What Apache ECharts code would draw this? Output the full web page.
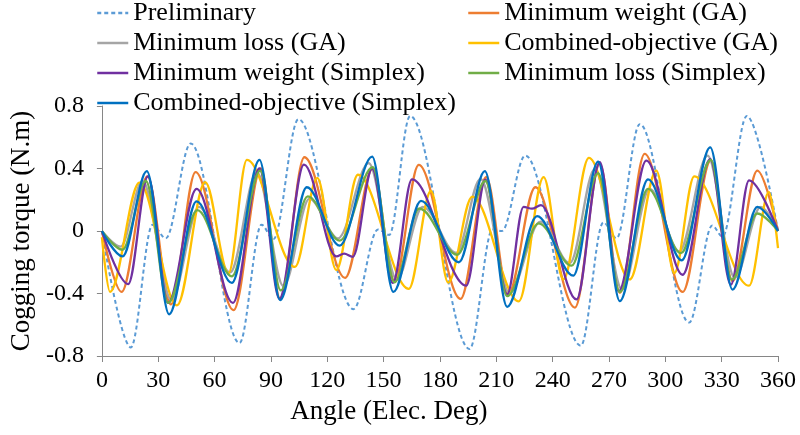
<!DOCTYPE html>
<html><head><meta charset="utf-8">
<script src="https://cdn.jsdelivr.net/npm/echarts@6/dist/echarts.min.js"></script>
<style>html,body{margin:0;padding:0;background:#fff}#c{width:800px;height:435px}</style>
</head><body><div id="c"></div>
<script>
// Tick values
var xTicks = [0, 30, 60, 90, 120, 150, 180, 210, 240, 270, 300, 330, 360];
var yTicks = [-0.8, -0.4, 0, 0.4, 0.8];

// Series names
var seriesNames = ['Preliminary', 'Minimum weight (GA)', 'Minimum loss (GA)', 'Combined-objective (GA)',
  'Minimum weight (Simplex)', 'Minimum loss (Simplex)', 'Combined-objective (Simplex)'];

// Preliminary (turning points)
var prelimAngle  = [0, 15.4, 27, 34, 47.3, 73.3, 85, 91.3, 104.6, 134, 147, 153, 164.1, 195.8, 208, 213, 225.4, 255, 267, 274, 286.4, 312.7, 325, 330.4, 343.4, 360];
var prelimTorque = [0, -0.745, 0.04, -0.047, 0.56, -0.717, 0.04, -0.053, 0.715, -0.5, 0.01, -0.025, 0.736, -0.755, 0.01, 0.0, 0.483, -0.734, 0.055, -0.047, 0.684, -0.586, 0.035, -0.036, 0.736, 0];

// Minimum weight (GA)
var mwGaAngle  = [0, 10.5, 24.2, 36.7, 49.9, 70.1, 84.6, 94.9, 107.8, 129.5, 144.2, 155.8, 168.7, 191, 204.6, 216.3, 230.8, 251.9, 265.1, 275.8, 289, 309.2, 324.2, 335.8, 349, 360];
var mwGaTorque = [0, -0.39, 0.35, -0.47, 0.377, -0.506, 0.40, -0.434, 0.472, -0.30, 0.40, -0.32, 0.423, -0.434, 0.345, -0.406, 0.28, -0.49, 0.43, -0.396, 0.493, -0.39, 0.45, -0.32, 0.387, 0];

// Minimum loss (GA)
var mlGaAngle  = [0, 10, 21.6, 37, 51.7, 68.3, 82.5, 96.7, 110.5, 125.7, 142.1, 157, 170.8, 188.7, 201.6, 217, 233.5, 249.2, 262.5, 277, 291.7, 307.4, 322.5, 337, 350.8, 360];
var mlGaTorque = [0, -0.1, 0.32, -0.44, 0.155, -0.265, 0.377, -0.353, 0.207, -0.047, 0.434, -0.31, 0.155, -0.14, 0.334, -0.396, 0.06, -0.205, 0.398, -0.375, 0.27, -0.13, 0.483, -0.3, 0.155, 0];

// Combined-objective (GA)
var coGaAngle  = [0, 4.3, 20, 40, 55, 67.4, 77.2, 102.8, 114.7, 124.8, 136.3, 163.4, 175.2, 184.4, 197.2, 222, 235.2, 245.7, 259.3, 281.1, 295.2, 304.8, 315.4, 344.6, 355.2, 360];
var coGaTorque = [-0.04, -0.39, 0.31, -0.476, 0.313, -0.27, 0.455, -0.23, 0.34, -0.25, 0.36, -0.37, 0.256, -0.33, 0.22, -0.45, 0.345, -0.31, 0.468, -0.31, 0.387, -0.27, 0.35, -0.35, 0.25, -0.11];

// Minimum weight (Simplex)
var mwSxAngle  = [0, 14, 24.5, 35.3, 50.4, 69.8, 83.9, 94.5, 107.6, 124.8, 129, 133.6, 143.9, 154.9, 165.1, 194, 204.2, 215.8, 224.5, 229, 233.8, 252.7, 265.1, 275.2, 289.9, 309.2, 323.9, 334.9, 344.6, 360];
var mwSxTorque = [0, -0.34, 0.35, -0.46, 0.27, -0.46, 0.40, -0.434, 0.425, -0.163, -0.145, -0.165, 0.40, -0.332, 0.33, -0.35, 0.328, -0.406, 0.155, 0.143, 0.165, -0.438, 0.44, -0.385, 0.45, -0.28, 0.46, -0.343, 0.324, 0];

// Minimum loss (Simplex)
var mlSxAngle  = [0, 11, 23.4, 35.3, 50.8, 69.2, 84.3, 95.2, 109.6, 126.6, 144.2, 155.8, 169, 189.2, 204.2, 215.8, 232.6, 250.1, 264.2, 275.8, 290.8, 308.3, 324.2, 335.4, 349, 360];
var mlSxTorque = [0, -0.12, 0.32, -0.46, 0.133, -0.29, 0.387, -0.38, 0.222, -0.061, 0.408, -0.328, 0.144, -0.152, 0.32, -0.417, 0.049, -0.222, 0.37, -0.39, 0.27, -0.142, 0.455, -0.311, 0.112, 0];

// Combined-objective (Simplex)
var coSxAngle  = [0, 11, 23.9, 35.8, 50.4, 69.2, 83.9, 94.9, 109.1, 126.6, 143.9, 155.2, 169.9, 190.1, 203.9, 215.8, 231.7, 251, 264.2, 275.8, 290.8, 308.7, 323.9, 335.8, 349, 360];
var coSxTorque = [0, -0.163, 0.383, -0.533, 0.19, -0.332, 0.455, -0.442, 0.28, -0.093, 0.476, -0.39, 0.193, -0.2, 0.383, -0.485, 0.095, -0.286, 0.444, -0.449, 0.33, -0.188, 0.535, -0.375, 0.155, 0];

var colors = ['#5B9BD5', '#ED7D31', '#A5A5A5', '#FFC000', '#7030A0', '#70AD47', '#0070C0'];
var angles = [prelimAngle, mwGaAngle, mlGaAngle, coGaAngle, mwSxAngle, mlSxAngle, coSxAngle];
var torques = [prelimTorque, mwGaTorque, mlGaTorque, coGaTorque, mwSxTorque, mlSxTorque, coSxTorque];

function zip(a, b) { return a.map(function (v, i) { return [v, b[i]]; }); }

var FONT = 'Liberation Serif';
var axisColor = '#868686';

var series = seriesNames.map(function (name, i) {
  return {
    name: name, type: 'line', data: zip(angles[i], torques[i]),
    smooth: 0.34, smoothMonotone: 'x', showSymbol: false, symbol: 'none',
    lineStyle: { color: colors[i], width: i === 0 ? 2 : 2.3, type: i === 0 ? [4, 3] : 'solid' },
    itemStyle: { color: colors[i] }, emphasis: { disabled: true }
  };
});

var legendText = { fontFamily: FONT, fontSize: 26, color: '#000' };
var legendCommon = { top: 0, orient: 'vertical', padding: 0, itemGap: 4, itemWidth: 31, itemHeight: 14,
  textStyle: legendText, itemStyle: { opacity: 0, borderWidth: 0 }, lineStyle: { width: 2.5 } };
var chart = echarts.init(document.getElementById('c'), null, { renderer: 'canvas' });
chart.setOption({
  animation: false,
  backgroundColor: '#fff',
  grid: { left: 99, right: 22, top: 106, bottom: 79, containLabel: false },
  legend: [
    Object.assign({ left: 96, data: [seriesNames[0], seriesNames[2], seriesNames[4], seriesNames[6]] }, legendCommon),
    Object.assign({ left: 467, data: [seriesNames[1], seriesNames[3], seriesNames[5]] }, legendCommon)
  ],
  xAxis: {
    type: 'value', min: xTicks[0], max: xTicks[xTicks.length - 1], interval: xTicks[1] - xTicks[0],
    axisLine: { show: true, onZero: false, lineStyle: { color: axisColor, width: 1 } },
    axisTick: { show: true, length: 6, lineStyle: { color: axisColor } },
    axisLabel: { fontFamily: FONT, fontSize: 24, color: '#000', margin: 13 },
    splitLine: { show: false },
    name: 'Angle (Elec. Deg)', nameLocation: 'middle', nameGap: 42,
    nameTextStyle: { fontFamily: FONT, fontSize: 27, color: '#000', padding: [0, 102, 0, 0] }
  },
  yAxis: {
    type: 'value', min: yTicks[0], max: yTicks[yTicks.length - 1], interval: yTicks[1] - yTicks[0],
    axisLine: { show: true, lineStyle: { color: axisColor, width: 1 } },
    axisTick: { show: true, length: 5, lineStyle: { color: axisColor } },
    axisLabel: { fontFamily: FONT, fontSize: 24, color: '#000', margin: 18,
      formatter: function (v) { return String(Math.round(v * 10) / 10); } },
    splitLine: { show: false },
    name: 'Cogging torque (N.m)', nameLocation: 'middle', nameGap: 60, nameRotate: 90,
    nameTextStyle: { fontFamily: FONT, fontSize: 27, color: '#000' }
  },
  series: series
});
</script></body></html>
